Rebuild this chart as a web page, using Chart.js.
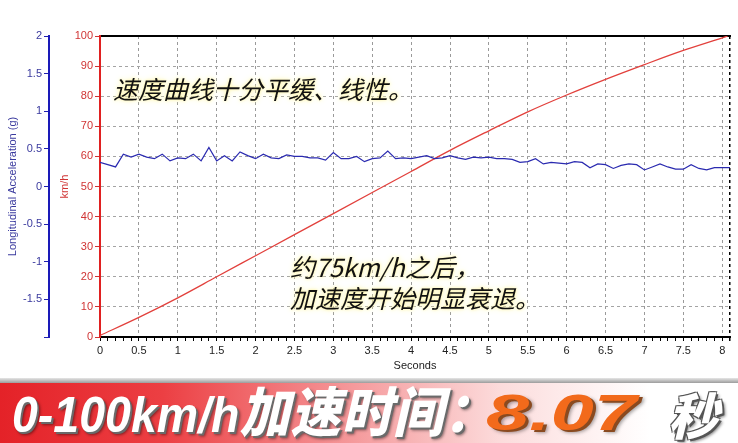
<!DOCTYPE html>
<html><head><meta charset="utf-8">
<script src="https://cdn.jsdelivr.net/npm/chart.js@4/dist/chart.umd.min.js"></script>
<style>
html,body{margin:0;padding:0;background:#fff;width:738px;height:443px;overflow:hidden;}
#wrap{position:relative;width:738px;height:378px;}
#c{display:block;}
.note{position:absolute;font-family:"Noto Sans CJK SC",sans-serif;font-style:italic;font-size:25px;color:#111;white-space:nowrap;line-height:31px;text-shadow:0 0 3px #fff4a0,0 0 6px #fff7b0;}
#strip{height:5px;background:linear-gradient(#e6e6e6,#9c9c9c);}
#banner{position:relative;height:60px;background:linear-gradient(to right,#e42228 0%,#ec3f43 22%,#f59a9c 48%,#fcdcdc 68%,#ffffff 88%);overflow:hidden;}
.bt{position:absolute;top:5px;display:inline-block;white-space:nowrap;font-weight:bold;font-style:italic;font-size:50px;line-height:50px;transform-origin:left center;}
#b1{left:12px;color:#fff;font-family:"Liberation Sans","Noto Sans CJK SC",sans-serif;transform:scaleX(0.93);text-shadow:2px 2px 0 #6a6a6a,3px 3px 3px rgba(0,0,0,.45);}
#b1 .cjk{font-size:54px;font-weight:900;letter-spacing:1px;}
#b2{left:486px;color:#f26a1b;font-family:"Liberation Sans",sans-serif;transform:scaleX(1.55);text-shadow:2px 2px 0 #8a4a20,3px 3px 3px rgba(0,0,0,.35);}
#b3{left:668px;color:#fff;font-family:"Noto Sans CJK SC",sans-serif;font-weight:900;text-shadow:-1px -1px 0 #555,1px -1px 0 #555,-1px 1px 0 #555,2px 2px 0 #555,3px 3px 3px rgba(0,0,0,.45);}
</style></head>
<body>
<div id="wrap">
<canvas id="c" width="738" height="378"></canvas>
<div class="note" style="left:113px;top:73px;">速度曲线十分平缓、线性。</div>
<div class="note" style="left:290px;top:251px;">约75km/h之后，<br>加速度开始明显衰退。</div>
</div>
<div id="strip"></div>
<div id="banner"><span class="bt" id="b1">0-100km/h<span class="cjk">加速时间：</span></span><span class="bt" id="b2">8.07</span><span class="bt" id="b3">秒</span></div>
<script>
// Speed (km/h) vs time (s)
const speedTime = [0,0.5,1,1.5,2,2.5,3,3.5,4,4.5,5,5.5,6,6.5,7,7.5,8,8.07];
const speedKmh  = [0.5,6.5,13,20,27,34,41,48,55,62,68.5,74.8,80.4,85.6,90.5,95.2,99.4,100];
// Longitudinal acceleration (g) vs time (s)
const accelTime = [0,0.1,0.2,0.3,0.4,0.5,0.6,0.7,0.8,0.9,1,1.1,1.2,1.3,1.4,1.5,1.6,1.7,1.8,1.9,2,2.1,2.2,2.3,2.4,2.5,2.6,2.7,2.8,2.9,3,3.1,3.2,3.3,3.4,3.5,3.6,3.7,3.8,3.9,4,4.1,4.2,4.3,4.4,4.5,4.6,4.7,4.8,4.9,5,5.1,5.2,5.3,5.4,5.5,5.6,5.7,5.8,5.9,6,6.1,6.2,6.3,6.4,6.5,6.6,6.7,6.8,6.9,7,7.1,7.2,7.3,7.4,7.5,7.6,7.7,7.8,7.9,8,8.1];
const accelG = [0.32,0.29,0.26,0.43,0.39,0.43,0.39,0.37,0.43,0.34,0.38,0.37,0.43,0.34,0.52,0.34,0.41,0.34,0.46,0.41,0.37,0.43,0.38,0.37,0.42,0.40,0.40,0.38,0.38,0.35,0.45,0.37,0.37,0.40,0.33,0.37,0.38,0.47,0.37,0.38,0.37,0.39,0.41,0.37,0.38,0.41,0.38,0.36,0.39,0.38,0.39,0.37,0.37,0.36,0.32,0.33,0.37,0.30,0.32,0.31,0.30,0.33,0.32,0.25,0.30,0.29,0.24,0.28,0.30,0.29,0.22,0.26,0.30,0.26,0.23,0.23,0.29,0.24,0.22,0.25,0.25,0.25];

const xMin = 0, xMax = 8.1, xMinorStep = 0.1, xMajorStep = 0.5;
const speedMin = 0, speedMax = 100, speedStep = 10;
const accelMin = -2, accelMax = 2, accelStep = 0.5;

const FONT = "'Liberation Sans', Arial, sans-serif";
Chart.defaults.font.family = FONT;

const isMajor = v => Math.abs(v / xMajorStep - Math.round(v / xMajorStep)) < 1e-6;
const isEnd = v => Math.abs(v - xMax) < 1e-6;

new Chart(document.getElementById('c'), {
  type: 'line',
  data: {
    datasets: [
      { label: 'Longitudinal Acceleration (g)', data: accelTime.map((t, i) => ({x: t, y: accelG[i]})),
        xAxisID: 'x', yAxisID: 'yA', borderColor: '#2a2ab0', borderWidth: 1.2, pointRadius: 0, tension: 0, order: 0 },
      { label: 'km/h', data: speedTime.map((t, i) => ({x: t, y: speedKmh[i]})),
        xAxisID: 'x', yAxisID: 'y', borderColor: '#e2403c', borderWidth: 1.3, pointRadius: 0, cubicInterpolationMode: 'monotone', order: 1 }
    ]
  },
  options: {
    responsive: false, animation: false, devicePixelRatio: 1,
    layout: { padding: { left: 5, right: 8, top: 36, bottom: 5 } },
    plugins: { legend: { display: false }, tooltip: { enabled: false } },
    scales: {
      x: {
        type: 'linear', position: 'bottom', min: xMin, max: xMax,
        afterFit(s) { s.height = 36; },
        ticks: { stepSize: xMinorStep, autoSkip: false, maxRotation: 0, color: '#222', font: { size: 11 }, padding: 3,
          callback(v) { return isMajor(v) ? String(Math.round(v * 2) / 2) : ''; } },
        grid: {
          color(ctx) { const v = ctx.tick ? ctx.tick.value : 0;
            if (isEnd(v)) return '#000'; if (v === 0) return 'rgba(0,0,0,0)'; return isMajor(v) ? '#9a9a9a' : 'rgba(0,0,0,0)'; },
          lineWidth(ctx) { const v = ctx.tick ? ctx.tick.value : 0; return isEnd(v) ? 1.5 : 1; },
          tickColor: '#000', tickLength: 4
        },
        border: { color: '#000', width: 2, dash: [3, 3] },
        title: { display: true, text: 'Seconds', color: '#222', font: { size: 11 }, padding: { top: 2, bottom: 0 } }
      },
      xTop: {
        type: 'linear', position: 'top', min: xMin, max: xMax,
        ticks: { display: false }, grid: { display: false, drawTicks: false },
        border: { color: '#000', width: 2 }
      },
      y: {
        type: 'linear', position: 'left', weight: 1, min: speedMin, max: speedMax,
        afterFit(s) { s.width = 51; },
        ticks: { stepSize: speedStep, color: '#d03434', font: { size: 11 }, padding: 2 },
        grid: { color: '#a4a4a4', tickColor: '#d03434', tickLength: 5 },
        border: { color: '#e02020', width: 2, dash: [3, 3] },
        title: { display: true, text: 'km/h', color: '#d03434', font: { size: 11 }, padding: { top: 9, bottom: 0 } }
      },
      yA: {
        type: 'linear', position: 'left', weight: 2, min: accelMin, max: accelMax,
        afterFit(s) { s.width = 44; },
        ticks: { stepSize: accelStep, color: '#3a3a9e', font: { size: 11 }, padding: 2,
          callback(v) { return v === accelMin ? '' : String(v); } },
        grid: { drawOnChartArea: false, color: '#2020b0', tickColor: '#2020b0', tickLength: 5 },
        border: { color: '#1a1ab8', width: 2 },
        title: { display: true, text: 'Longitudinal Acceleration (g)', color: '#3a3a9e', font: { size: 11 }, padding: { top: 1, bottom: 0 } }
      }
    }
  }
});
</script>
</body></html>
